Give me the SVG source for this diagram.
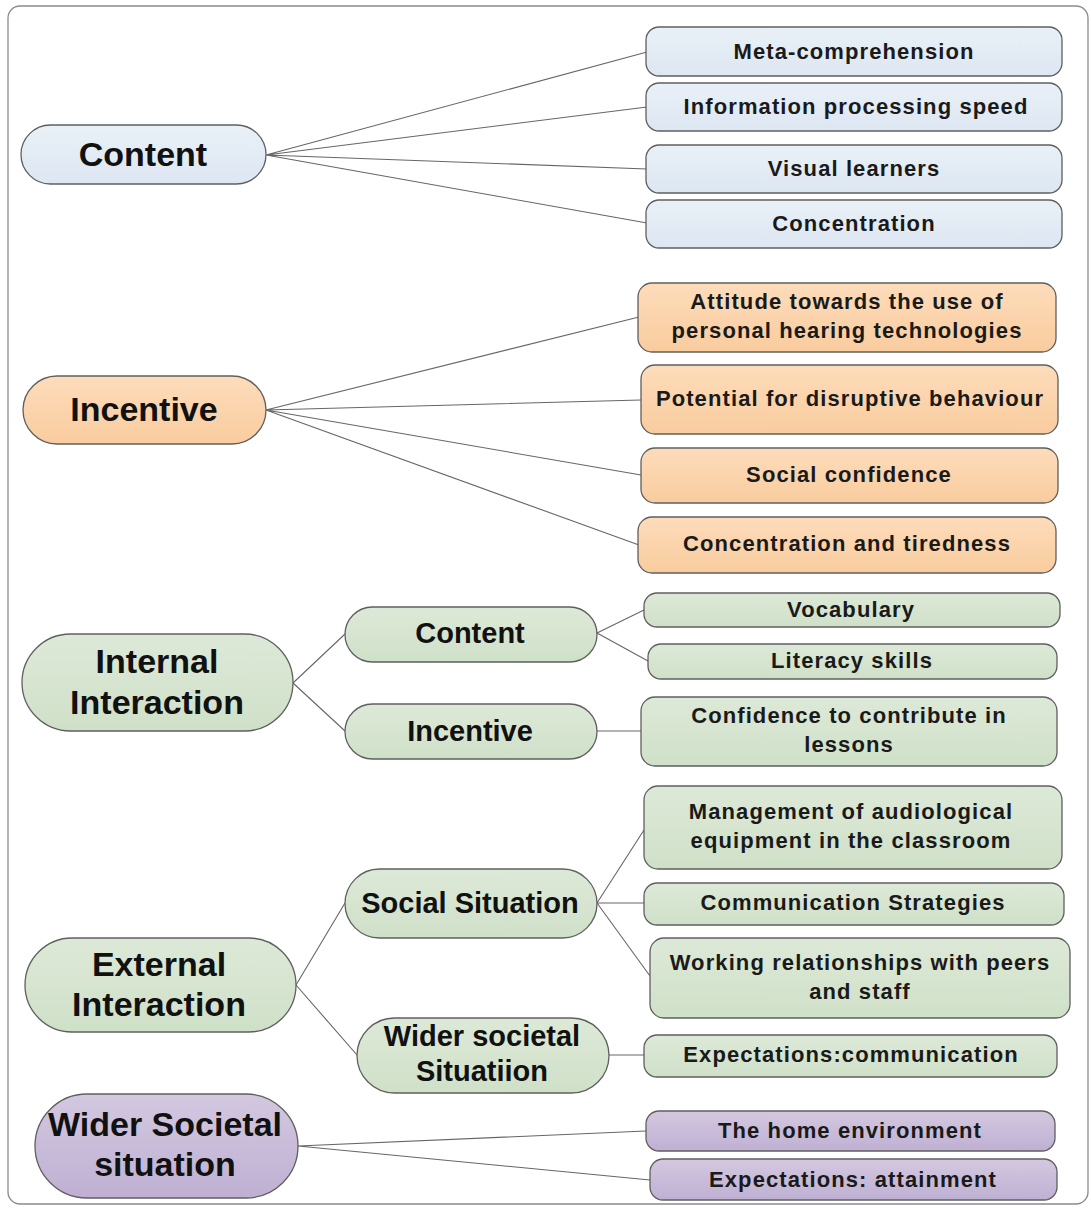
<svg xmlns="http://www.w3.org/2000/svg" width="1091" height="1209" viewBox="0 0 1091 1209">
<defs>
<linearGradient id="gB" x1="0" y1="0" x2="0" y2="1"><stop offset="0" stop-color="#e9f0f7"/><stop offset="1" stop-color="#dde7f2"/></linearGradient>
<linearGradient id="gO" x1="0" y1="0" x2="0" y2="1"><stop offset="0" stop-color="#fddcbb"/><stop offset="1" stop-color="#f9cc9e"/></linearGradient>
<linearGradient id="gG" x1="0" y1="0" x2="0" y2="1"><stop offset="0" stop-color="#dde9d8"/><stop offset="1" stop-color="#cfe0c8"/></linearGradient>
<linearGradient id="gP" x1="0" y1="0" x2="0" y2="1"><stop offset="0" stop-color="#d3c8e0"/><stop offset="1" stop-color="#bfb0d3"/></linearGradient>
</defs>
<style>
.frame{fill:#fff;stroke:#8a8a8a;stroke-width:1.3}
.nd{stroke:#5f5f5f;stroke-width:1.3}
.b{fill:url(#gB)}.o{fill:url(#gO)}.g{fill:url(#gG)}.p{fill:url(#gP)}
.big{font-family:"Liberation Sans",Arial,sans-serif;font-weight:bold;font-size:34px;fill:#111;text-anchor:middle}
.mid{font-family:"Liberation Sans",Arial,sans-serif;font-weight:bold;font-size:29px;fill:#111;text-anchor:middle}
.sm{font-family:"Liberation Sans",Arial,sans-serif;font-weight:bold;font-size:22px;letter-spacing:1.1px;fill:#1a1a1a;text-anchor:middle}
.cn{stroke:#666;stroke-width:1.1;fill:none}
</style>
<rect class="frame" x="8" y="6" width="1080" height="1198" rx="12"/>
<g id="connectors">
<path class="cn" d="M266 155 L647 52 M266 155 L647 107 M266 155 L647 169 M266 155 L647 223"/>
<path class="cn" d="M266 410 L639 317 M266 410 L641 400 M266 410 L641 475 M266 410 L639 545"/>
<path class="cn" d="M293 683 L345 634 M293 683 L345 731"/>
<path class="cn" d="M597 633 L644 610 M597 633 L648 661 M597 731 L641 731"/>
<path class="cn" d="M296 985 L345 903 M296 985 L357 1055"/>
<path class="cn" d="M597 903 L644 830 M597 903 L644 903 M597 903 L650 976 M609 1055 L644 1055"/>
<path class="cn" d="M298 1146 L646 1131 M298 1146 L650 1180"/>
</g>
<g id="content">
<rect class="nd b" x="21" y="125" width="245" height="59" rx="29.5"/>
<text class="big" x="143" y="166">Content</text>
</g>
<g id="meta"><rect class="nd b" x="646" y="27" width="416" height="49" rx="13"/><text class="sm" x="854" y="59">Meta-comprehension</text></g>
<g id="info"><rect class="nd b" x="646" y="83" width="416" height="48" rx="13"/><text class="sm" x="856" y="114">Information processing speed</text></g>
<g id="visual"><rect class="nd b" x="646" y="145" width="416" height="48" rx="13"/><text class="sm" x="854" y="176">Visual learners</text></g>
<g id="conc"><rect class="nd b" x="646" y="200" width="416" height="48" rx="13"/><text class="sm" x="854" y="231">Concentration</text></g>
<g id="incentive">
<rect class="nd o" x="23" y="376" width="243" height="68" rx="34"/>
<text class="big" x="144" y="421">Incentive</text>
</g>
<g id="attitude"><rect class="nd o" x="638" y="283" width="418" height="69" rx="14"/><text class="sm" x="847" y="309">Attitude towards the use of</text><text class="sm" x="847" y="338">personal hearing technologies</text></g>
<g id="potential"><rect class="nd o" x="641" y="365" width="417" height="69" rx="14"/><text class="sm" x="850" y="406">Potential for disruptive behaviour</text></g>
<g id="socconf"><rect class="nd o" x="641" y="448" width="417" height="55" rx="14"/><text class="sm" x="849" y="482">Social confidence</text></g>
<g id="conctired"><rect class="nd o" x="638" y="517" width="418" height="56" rx="14"/><text class="sm" x="847" y="551">Concentration and tiredness</text></g>
<g id="internal">
<rect class="nd g" x="22" y="634" width="271" height="97" rx="48.5"/>
<text class="big" x="157" y="673">Internal</text>
<text class="big" x="157" y="714">Interaction</text>
</g>
<g id="int-content"><rect class="nd g" x="345" y="607" width="252" height="55" rx="27.5"/><text class="mid" x="470" y="643">Content</text></g>
<g id="int-incentive"><rect class="nd g" x="345" y="704" width="252" height="55" rx="27.5"/><text class="mid" x="470" y="741">Incentive</text></g>
<g id="vocab"><rect class="nd g" x="644" y="593" width="416" height="34" rx="13"/><text class="sm" x="851" y="617">Vocabulary</text></g>
<g id="literacy"><rect class="nd g" x="648" y="644" width="409" height="35" rx="13"/><text class="sm" x="852" y="668">Literacy skills</text></g>
<g id="confcontrib"><rect class="nd g" x="641" y="697" width="416" height="69" rx="14"/><text class="sm" x="849" y="723">Confidence to contribute in</text><text class="sm" x="849" y="752">lessons</text></g>
<g id="external">
<rect class="nd g" x="25" y="938" width="271" height="94" rx="47"/>
<text class="big" x="159" y="976">External</text>
<text class="big" x="159" y="1016">Interaction</text>
</g>
<g id="social"><rect class="nd g" x="345" y="869" width="252" height="69" rx="34.5"/><text class="mid" x="470" y="913">Social Situation</text></g>
<g id="widersoc"><rect class="nd g" x="357" y="1018" width="252" height="75" rx="37.5"/><text class="mid" x="482" y="1046">Wider societal</text><text class="mid" x="482" y="1081">Situatiion</text></g>
<g id="mgmt"><rect class="nd g" x="644" y="786" width="418" height="83" rx="14"/><text class="sm" x="851" y="819">Management of audiological</text><text class="sm" x="851" y="848">equipment in the classroom</text></g>
<g id="commstrat"><rect class="nd g" x="644" y="883" width="420" height="42" rx="13"/><text class="sm" x="853" y="910">Communication Strategies</text></g>
<g id="working"><rect class="nd g" x="650" y="938" width="420" height="80" rx="14"/><text class="sm" x="860" y="970">Working relationships with peers</text><text class="sm" x="860" y="999">and staff</text></g>
<g id="expcomm"><rect class="nd g" x="644" y="1035" width="413" height="42" rx="13"/><text class="sm" x="851" y="1062">Expectations:communication</text></g>
<g id="widermain">
<rect class="nd p" x="35" y="1094" width="263" height="104" rx="52"/>
<text class="big" x="165" y="1136">Wider Societal</text>
<text class="big" x="165" y="1176">situation</text>
</g>
<g id="home"><rect class="nd p" x="646" y="1111" width="409" height="40" rx="13"/><text class="sm" x="850" y="1138">The home environment</text></g>
<g id="expatt"><rect class="nd p" x="650" y="1159" width="407" height="41" rx="13"/><text class="sm" x="853" y="1187">Expectations: attainment</text></g>
</svg>
